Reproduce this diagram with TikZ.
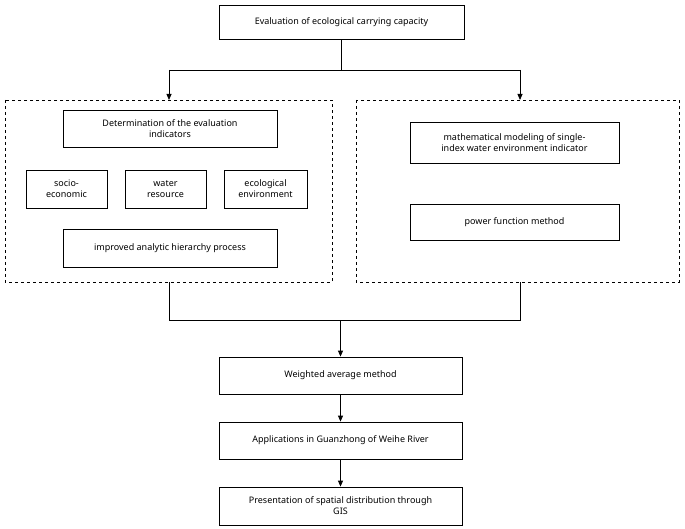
\documentclass[tikz,border=0pt]{standalone}
\usepackage{fontspec}
\setmainfont{Noto Sans}
\usetikzlibrary{arrows.meta}
\begin{document}
\begin{tikzpicture}[x=1pt,y=-1pt,
  box/.style={draw,thick,align=center,font=\bfseries\fontsize{9}{11}\selectfont,inner sep=2pt},
  dbox/.style={draw,thick,dashed},
  arr/.style={thick,-{Triangle[length=6pt,width=5pt]}},
  ln/.style={thick}]
\useasboundingbox (0,0) rectangle (685,529);
\node[box,minimum width=245,minimum height=34] (top) at (341.5,22) {Evaluation of ecological carrying capacity};
\draw[dbox] (5,100) rectangle (332,282);
\draw[dbox] (356,100) rectangle (679,282);
\coordinate (L) at (169,100); \coordinate (R) at (520,100);
\coordinate (Lb) at (169,282); \coordinate (Rb) at (520,282);
\node[box,minimum width=214,minimum height=37] (det) at (170,128.5) {Determination of the evaluation\\indicators};
\node[box,minimum width=81,minimum height=38] (soc) at (66.5,189) {socio-\\economic};
\node[box,minimum width=81,minimum height=38] (wat) at (165.5,189) {water\\resource};
\node[box,minimum width=83,minimum height=38] (eco) at (265.5,189) {ecological\\environment};
\node[box,minimum width=214,minimum height=38] (ahp) at (170,248) {improved analytic hierarchy process};
\node[box,minimum width=209,minimum height=41] (math) at (514.5,142.5) {mathematical modeling of single-\\index water environment indicator};
\node[box,minimum width=209,minimum height=36] (pow) at (514.5,222) {power function method};
\node[box,minimum width=243,minimum height=37] (wam) at (340.5,375.5) {Weighted average method};
\node[box,minimum width=243,minimum height=37] (app) at (340.5,440.5) {Applications in Guanzhong of Weihe River};
\node[box,minimum width=243,minimum height=38] (gis) at (340.5,506) {Presentation of spatial distribution through\\GIS};
\draw[ln] (top.south) -- (341.5,70);
\draw[ln] (169,70) -- (520,70);
\draw[arr] (169,70) -- (L);
\draw[arr] (520,70) -- (R);
\draw[ln] (Lb) -- (169,320) -- (520,320) -- (Rb);
\draw[arr] (340.5,320) -- (wam.north);
\draw[arr] (wam) -- (app);
\draw[arr] (app) -- (gis);
\end{tikzpicture}
\end{document}
